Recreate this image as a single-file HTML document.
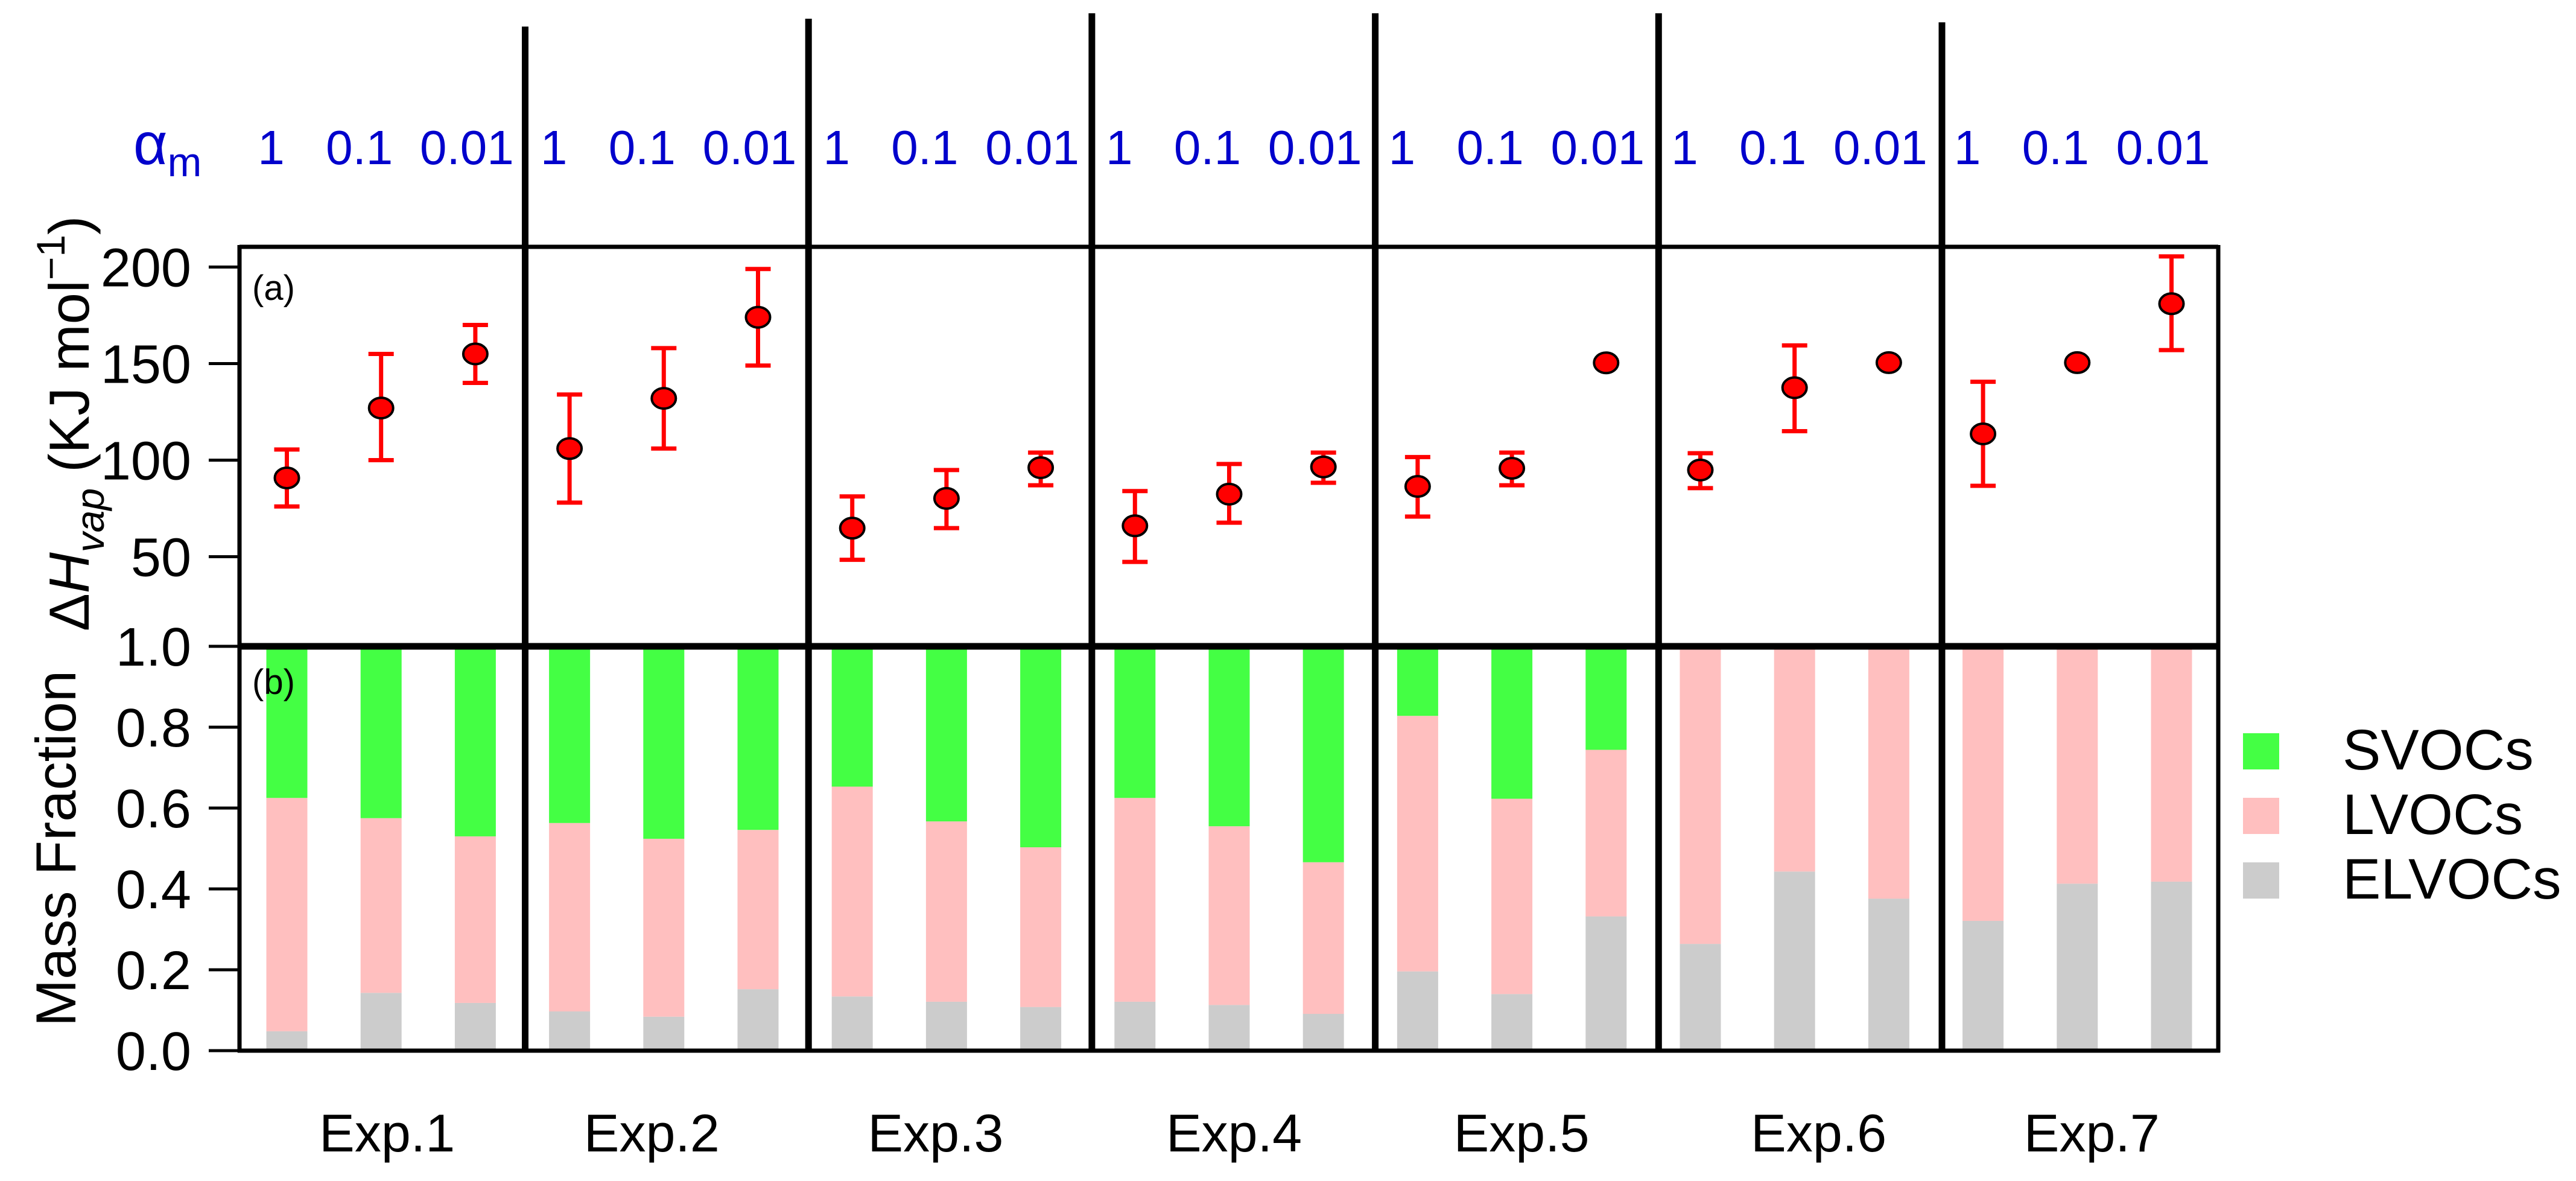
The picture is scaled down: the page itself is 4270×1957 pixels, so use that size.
<!DOCTYPE html>
<html><head><meta charset="utf-8"><style>
html,body{margin:0;padding:0;background:#fff;}
svg{display:block;font-family:"Liberation Sans",Arial,sans-serif;}
</style></head><body>
<svg id="chart" width="4270" height="1957" viewBox="0 0 4270 1957" xmlns="http://www.w3.org/2000/svg">
<g id="barsLayer"></g>
<g id="errLayer"></g>
<g id="axesLayer"></g>
<g id="textLayer"></g>
</svg>
<script>
const experiments = ["Exp.1","Exp.2","Exp.3","Exp.4","Exp.5","Exp.6","Exp.7"];
const alphaLabels = ["1","0.1","0.01"];
const dhValues = [90.8,127,155, 106,132,174, 64.8,80.2,96.1, 66,82.4,96.5, 86.4,95.8,150.4, 94.9,137.5,150.5, 113.6,150.5,181];
const dhUpper = [105.5,155,170, 134,158,199, 81.2,94.9,103.9, 84,98,103.9, 101.6,103.9,null, 103.6,159.4,null, 140.6,null,205.5];
const dhLower = [76,100,140, 78,106,149, 48.4,64.8,87, 47.3,67.6,88.3, 70.8,87,null, 85.5,115,null, 86.7,null,157];
const elvocs = [0.048,0.143,0.118, 0.097,0.084,0.152, 0.134,0.121,0.108, 0.121,0.113,0.091, 0.196,0.14,0.332, 0.264,0.443,0.376, 0.321,0.413,0.418];
const lvocs = [0.577,0.432,0.412, 0.466,0.44,0.394, 0.519,0.446,0.395, 0.504,0.442,0.375, 0.632,0.483,0.412, 0.736,0.557,0.624, 0.679,0.587,0.582];
const svocs = [0.375,0.425,0.47, 0.437,0.476,0.454, 0.347,0.433,0.497, 0.375,0.445,0.534, 0.172,0.377,0.256, 0,0,0, 0,0,0];
const dhTicks = [50,100,150,200];
const fracTicks = [0,0.2,0.4,0.6,0.8,1.0];
const fracTickLabels = ["0.0","0.2","0.4","0.6","0.8","1.0"];
const legendNames = ["SVOCs","LVOCs","ELVOCs"];
const expLabelShift = [10,-20,-18,8,16,40,24];
const dividerTops = [44,31,22,22,22,37];

const NS="http://www.w3.org/2000/svg";
const L=397, R=3677, TOP=409, MID=1071, BOT=1741;
const yA = v => 922.5-(v-50)*3.2;
const yB = v => BOT-v*(BOT-MID);
const xBar = i => 475.5 + Math.floor(i/3)*468.6 + (i%3)*156.2;
function mk(tag, attrs, parent){const e=document.createElementNS(NS,tag);for(const k in attrs)e.setAttribute(k,attrs[k]);parent.appendChild(e);return e;}
const bars=document.getElementById('barsLayer'), errs=document.getElementById('errLayer'), axes=document.getElementById('axesLayer'), txt=document.getElementById('textLayer');
const colors=["#44ff44","#ffbfbf","#cccccc"];

for(let i=0;i<elvocs.length;i++){
  const x=xBar(i)-34, w=68;
  const segs=[elvocs[i],lvocs[i],svocs[i]];
  const order=[2,1,0];
  let base=0;
  for(let s=0;s<3;s++){
    const v=segs[s]; if(v<=0) continue;
    const r=mk('rect',{x:x,y:yB(base+v),width:w,height:yB(base)-yB(base+v),fill:colors[order[s]]},bars);
    
    
    base+=v;
  }
}
for(let i=0;i<dhValues.length;i++){
  const x=xBar(i);
  if(dhUpper[i]!==null){
    const g=mk('g',{stroke:'#ff0000','stroke-width':7},errs);
    
    
    mk('line',{x1:x,x2:x,y1:yA(dhUpper[i]),y2:yA(dhLower[i])},g);
    mk('line',{x1:x-21,x2:x+21,y1:yA(dhUpper[i]),y2:yA(dhUpper[i])},g);
    mk('line',{x1:x-21,x2:x+21,y1:yA(dhLower[i]),y2:yA(dhLower[i])},g);
  }
  const c=mk('ellipse',{cx:x,cy:yA(dhValues[i]),rx:20,ry:17,fill:'#ff0000',stroke:'#000','stroke-width':4},errs);
  
  
}
// frame
mk('line',{x1:L,x2:R,y1:TOP,y2:TOP,stroke:'#000','stroke-width':7},axes);
mk('line',{x1:L-3,x2:R+3,y1:BOT,y2:BOT,stroke:'#000','stroke-width':7},axes);
mk('line',{x1:L,x2:R,y1:MID,y2:MID,stroke:'#000','stroke-width':11},axes);
mk('line',{x1:L,x2:L,y1:TOP-3,y2:BOT+3,stroke:'#000','stroke-width':7},axes);
mk('line',{x1:R,x2:R,y1:TOP-3,y2:BOT+3,stroke:'#000','stroke-width':7},axes);
for(let d=0;d<6;d++){
  const x=870.5+d*469.7;
  const ln=mk('line',{x1:x,x2:x,y1:dividerTops[d],y2:1739,stroke:'#000','stroke-width':11},axes);
  
  
}
dhTicks.forEach(t=>{
  mk('line',{x1:346,x2:L,y1:yA(t),y2:yA(t),stroke:'#000','stroke-width':5},axes);
  if(t!==0){const e=mk('text',{x:317,y:yA(t)+32,'text-anchor':'end','font-size':90},txt);e.textContent=t;
  
  }
});
fracTicks.forEach((t,k)=>{
  mk('line',{x1:346,x2:L,y1:yB(t),y2:yB(t),stroke:'#000','stroke-width':5},axes);
  const e=mk('text',{x:317,y:yB(t)+32,'text-anchor':'end','font-size':90},txt);e.textContent=fracTickLabels[k];
  
  
});
const alphaOff=[-26,-36,-14];
for(let i=0;i<21;i++){
  const e=mk('text',{x:xBar(i)+alphaOff[i%3],y:272,'text-anchor':'middle','font-size':80,fill:'#0000cc'},txt);
  e.textContent=alphaLabels[i%3];
  
  
}
experiments.forEach((n,g)=>{
  const e=mk('text',{x:xBar(g*3+1)+expLabelShift[g],y:1908,'text-anchor':'middle','font-size':88},txt);
  e.textContent=n;
  
  
});
legendNames.forEach((n,k)=>{
  const y=[1215,1322,1429][k];
  const r=mk('rect',{x:3718,y:y,width:60,height:60,fill:colors[k]},txt);
  
  
  const e=mk('text',{x:3883,y:y+60,'font-size':95},txt);e.textContent=n;
  
  
});
</script>
<svg width="0" height="0" style="position:absolute"></svg>
<div style="position:absolute;left:0;top:0;width:4270px;height:1957px;pointer-events:none">
<svg width="4270" height="1957" style="position:absolute;left:0;top:0" xmlns="http://www.w3.org/2000/svg">
<text x="221" y="272" font-size="98" fill="#0000cc" font-family="Liberation Sans, sans-serif">α<tspan font-size="68" dy="20">m</tspan></text>
<text x="418" y="497" font-size="58" font-family="Liberation Sans, sans-serif">(a)</text>
<text x="418" y="1150" font-size="58" font-family="Liberation Sans, sans-serif">(b)</text>
<text transform="translate(147,1046) rotate(-90)" font-size="94" font-family="Liberation Sans, sans-serif">Δ<tspan font-style="italic">H</tspan><tspan font-style="italic" font-size="66" dy="25">vap</tspan><tspan dy="-25"> (KJ mol</tspan><tspan font-size="66" dy="-40">−1</tspan><tspan dy="40">)</tspan></text>
<text transform="translate(125,1406) rotate(-90)" text-anchor="middle" font-size="94" font-family="Liberation Sans, sans-serif">Mass Fraction</text>
</svg>
</div>
</body></html>
